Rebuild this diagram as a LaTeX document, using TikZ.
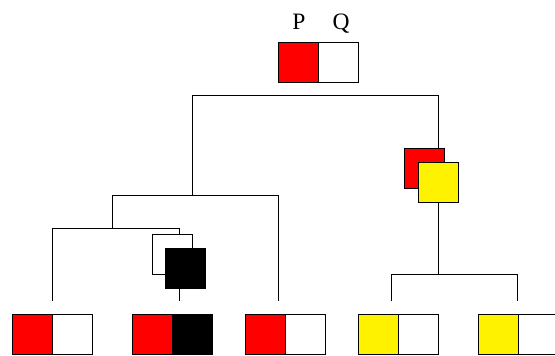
\documentclass[tikz,border=0pt]{standalone}
\usepackage{fontspec}
\setmainfont{Liberation Serif}
\begin{document}
\begin{tikzpicture}[x=1pt,y=-1pt,
  cell/.style={draw=black, line width=0.8pt, minimum width=40pt, minimum height=40pt, inner sep=0pt, outer sep=0pt},
  redcell/.style={cell, fill=red},
  whitecell/.style={cell, fill=white},
  yellowcell/.style={cell, fill=yellow},
  blackcell/.style={cell, fill=black},
  edge/.style={draw=black, line width=0.8pt},
  lbl/.style={font=\fontsize{23.5}{26}\selectfont, inner sep=0pt, anchor=base}]
\useasboundingbox (0,0) rectangle (555,356);
\clip (0,0) rectangle (555,356);
% top pair
\node[redcell] (tP) at (298.3,62) {};
\node[whitecell] (tQ) at (338.3,62) {};
\node[lbl] (lP) at (299,29) {P};
\node[lbl] (lQ) at (341,29) {Q};
% right internal node (red behind yellow)
\node[redcell] (rR) at (424.6,168.3) {};
\node[yellowcell] (rY) at (438.2,182) {};
% left internal node (white behind black)
\node[whitecell] (iW) at (172.3,254.7) {};
\node[blackcell] (iB) at (185.7,268) {};
% leaves
\node[redcell] (a1) at (32.7,334.7) {};
\node[whitecell] (a2) at (72.7,334.7) {};
\node[redcell] (b1) at (152.3,334.7) {};
\node[blackcell] (b2) at (192.3,334.7) {};
\node[redcell] (c1) at (265.3,334.7) {};
\node[whitecell] (c2) at (305.3,334.7) {};
\node[yellowcell] (d1) at (378.2,334.7) {};
\node[whitecell] (d2) at (418.2,334.7) {};
\node[yellowcell] (e1) at (498,334.7) {};
\node[whitecell] (e2) at (538,334.7) {};
% junction coordinates
\coordinate (rootL) at (192.3,95.3);
\coordinate (rootR) at (438.2,95.3);
\coordinate (mTop) at (192.3,195);
\coordinate (mL) at (112.3,195);
\coordinate (mR) at (278.6,195);
\coordinate (mRend) at (278.6,301);
\coordinate (nTop) at (112.3,228);
\coordinate (nL) at (52.4,228);
\coordinate (nR) at (179,228);
\coordinate (nLend) at (52.4,301);
\coordinate (bEnd) at (179,301);
\coordinate (yJ) at (438.2,274.5);
\coordinate (yL) at (391.4,274.5);
\coordinate (yR) at (517.8,274.5);
\coordinate (yLend) at (391.4,301);
\coordinate (yRend) at (517.8,301);
% connectors
\draw[edge] (mTop) -- (rootL) -- (rootR) -- (rootR |- rR.north);
\draw[edge] (mL) -- (mR) -- (mRend);
\draw[edge] (mL) -- (nTop);
\draw[edge] (nLend) -- (nL) -- (nR) -- (nR |- iW.north);
\draw[edge] (bEnd |- iB.south) -- (bEnd);
\draw[edge] (rY.south) -- (yJ);
\draw[edge] (yLend) -- (yL) -- (yR) -- (yRend);
\end{tikzpicture}
\end{document}
